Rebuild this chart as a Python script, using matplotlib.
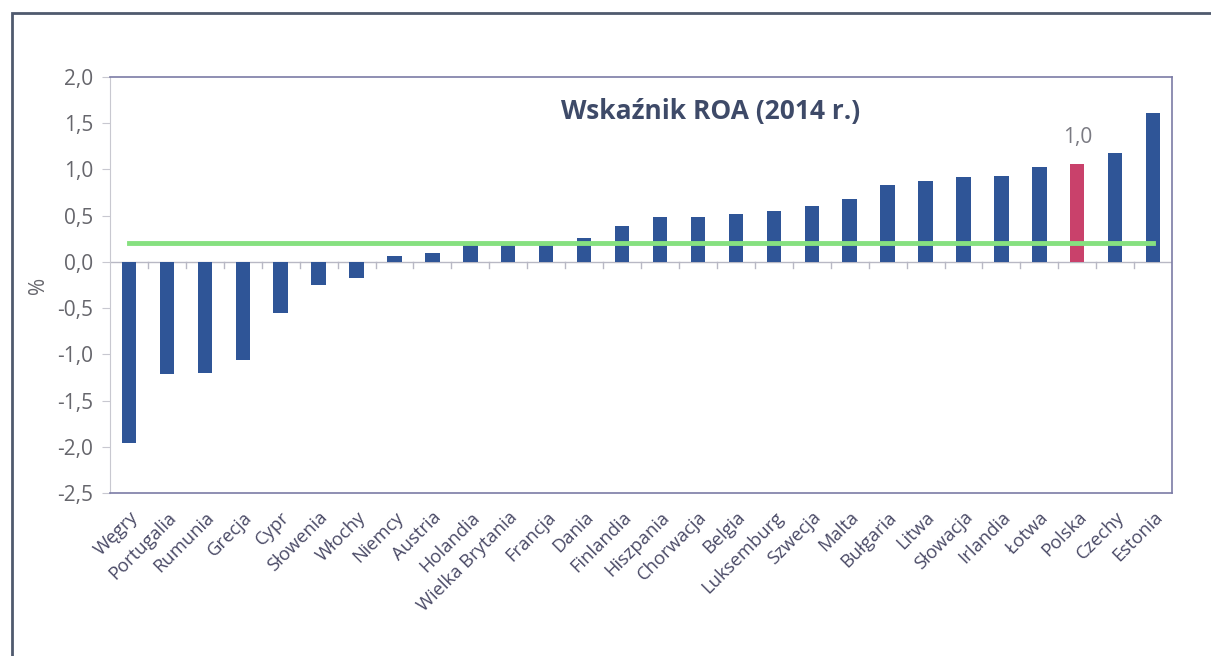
import matplotlib
matplotlib.use('Agg')
import matplotlib.pyplot as plt
from matplotlib.patches import Rectangle
from matplotlib.ticker import FuncFormatter

plt.rcParams['font.family'] = ['Open Sans', 'DejaVu Sans']

countries = ['Węgry', 'Portugalia', 'Rumunia', 'Grecja', 'Cypr', 'Słowenia', 'Włochy',
             'Niemcy', 'Austria', 'Holandia', 'Wielka Brytania', 'Francja', 'Dania',
             'Finlandia', 'Hiszpania', 'Chorwacja', 'Belgia', 'Luksemburg', 'Szwecja',
             'Malta', 'Bułgaria', 'Litwa', 'Słowacja', 'Irlandia', 'Łotwa', 'Polska',
             'Czechy', 'Estonia']
roa = [-1.96, -1.21, -1.20, -1.06, -0.55, -0.25, -0.17,
       0.06, 0.10, 0.18, 0.19, 0.19, 0.26,
       0.39, 0.49, 0.49, 0.52, 0.55, 0.61,
       0.68, 0.83, 0.88, 0.92, 0.93, 1.03, 1.06,
       1.18, 1.61]
eu_avg = 0.2
highlight = 'Polska'
highlight_label = '1,0'
title = 'Wskaźnik ROA (2014 r.)'

blue = '#2f5597'
red = '#c9416b'
gray = '#66666c'

fig = plt.figure(figsize=(12.11, 6.56), dpi=100)
ax = fig.add_axes([0.0908, 0.2485, 0.8771, 0.6341])

x = list(range(len(countries)))
colors = [red if c == highlight else blue for c in countries]
ax.bar(x, roa, width=0.38, color=colors, zorder=2)
ax.plot([x[0], x[-1]], [eu_avg, eu_avg], color='#86e080', lw=3.5, zorder=3)

ax.set_xlim(-0.5, len(countries) - 0.5)
ax.set_ylim(-2.5, 2.0)
ax.set_yticks([-2.5, -2.0, -1.5, -1.0, -0.5, 0.0, 0.5, 1.0, 1.5, 2.0])
ax.yaxis.set_major_formatter(FuncFormatter(lambda v, p: f'{v:.1f}'.replace('.', ',')))
ax.tick_params(axis='y', labelsize=15, colors='#c8c8d0', labelcolor=gray, length=6, pad=6)

ax.set_xticks(x)
ax.set_xticklabels(countries, rotation=45, ha='right', rotation_mode='anchor',
                   fontsize=13.2, color='#4a4a66')
ax.tick_params(axis='x', length=0, pad=11)

# zero line with category separators
ax.axhline(0, color='#b8b8c4', lw=1, zorder=1)
for i in range(len(countries) - 1):
    ax.plot([i + 0.5, i + 0.5], [0, -0.07], color='#b8b8c4', lw=1, zorder=1)

for side in ['top', 'right', 'bottom']:
    ax.spines[side].set_color('#7c7ca6')
    ax.spines[side].set_linewidth(1.2)
ax.spines['left'].set_color('#c8c8d0')

ax.set_ylabel('%', fontsize=15, color=gray, labelpad=6)
ax.text(0.565, 0.918, title, transform=ax.transAxes, ha='center', va='center',
        fontsize=19, fontweight='bold', color='#3e4a68')

hi = countries.index(highlight)
ax.text(hi, roa[hi] + 0.29, highlight_label, ha='center', va='center',
        fontsize=15, color='#7a7a82')

# outer frame (runs off the right and bottom edges)
fig.patches.append(Rectangle((0.0099, -0.05), 1.1, 1.03, transform=fig.transFigure,
                             fill=False, edgecolor='#4f5a6e', lw=2))

fig.savefig('out.png', dpi=100)
